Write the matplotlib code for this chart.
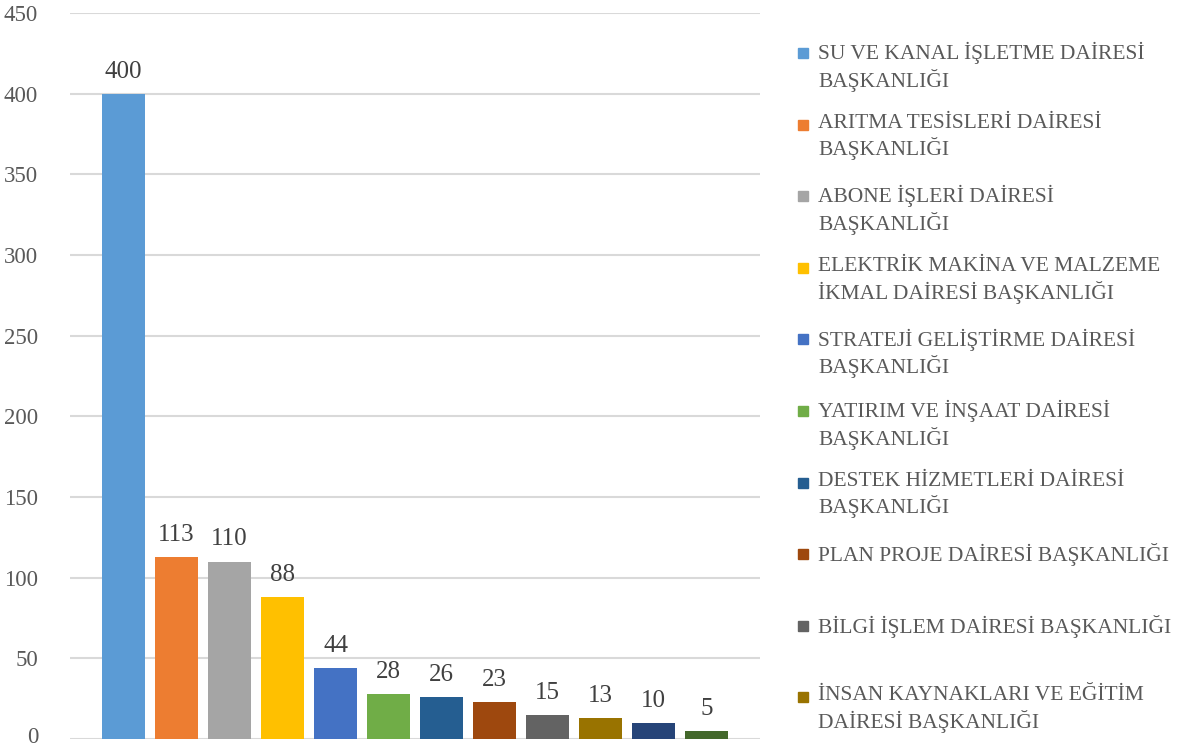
import matplotlib
matplotlib.use("Agg")
import matplotlib.pyplot as plt
import matplotlib.transforms as mtransforms
from matplotlib.patches import Rectangle

departments = [
    "SU VE KANAL İŞLETME DAİRESİ\nBAŞKANLIĞI",
    "ARITMA TESİSLERİ DAİRESİ\nBAŞKANLIĞI",
    "ABONE İŞLERİ DAİRESİ\nBAŞKANLIĞI",
    "ELEKTRİK MAKİNA VE MALZEME\nİKMAL DAİRESİ BAŞKANLIĞI",
    "STRATEJİ GELİŞTİRME DAİRESİ\nBAŞKANLIĞI",
    "YATIRIM VE İNŞAAT DAİRESİ\nBAŞKANLIĞI",
    "DESTEK HİZMETLERİ DAİRESİ\nBAŞKANLIĞI",
    "PLAN PROJE DAİRESİ BAŞKANLIĞI",
    "BİLGİ İŞLEM DAİRESİ BAŞKANLIĞI",
    "İNSAN KAYNAKLARI VE EĞİTİM\nDAİRESİ BAŞKANLIĞI",
]
values = [400, 113, 110, 88, 44, 28, 26, 23, 15, 13, 10, 5]
colors = ["#5B9BD5", "#ED7D31", "#A5A5A5", "#FFC000", "#4472C4", "#70AD47",
          "#255E91", "#9E480E", "#636363", "#997300", "#264478", "#43682B"]
yticks = [0, 50, 100, 150, 200, 250, 300, 350, 400, 450]

W, H = 1184, 749
fig = plt.figure(figsize=(W / 100, H / 100), dpi=100)
font = "Liberation Serif"
ax = fig.add_axes([70 / W, 1 - 739 / H, 690 / W, (739 - 13) / H])

x = list(range(len(values)))
ax.bar(x, values, width=43 / 53, color=colors, zorder=3)
for xi, v in zip(x, values):
    ax.annotate(str(v), (xi, v), xytext=(0, 8), textcoords="offset points",
                ha="center", va="bottom", fontsize=18, color="#404040", family=font)

ax.set_xlim(-1.01, 12.01)
ax.set_ylim(0, 450)
ax.set_yticks(yticks)
ax.set_yticklabels([str(t) for t in yticks], fontsize=16.5, color="#595959", family=font)
ax.set_xticks([])
ax.tick_params(axis="y", length=0, pad=23)
ax.grid(axis="y", color="#D9D9D9", linewidth=1.5, zorder=0)
for s in ax.spines.values():
    s.set_visible(False)

# keep the "0" label fully inside the canvas
zero_lbl = ax.get_yticklabels()[0]
zero_lbl.set_transform(zero_lbl.get_transform() +
                       mtransforms.ScaledTranslation(0, 4 / 100, fig.dpi_scale_trans))

# legend (manual, as in the reference where it is truncated after 10 entries)
y0 = 53
step = 71.6
for i, lab in enumerate(departments):
    yc = y0 + step * i
    fig.patches.append(Rectangle(((798) / W, 1 - (yc + 5) / H), 10 / W, 10 / H,
                                 transform=fig.transFigure, color=colors[i]))
    fig.text(818 / W, 1 - (yc - 11) / H, lab, ha="left", va="top", fontsize=15.5,
             color="#595959", family=font, linespacing=1.27)

fig.savefig("out.png", dpi=100)
